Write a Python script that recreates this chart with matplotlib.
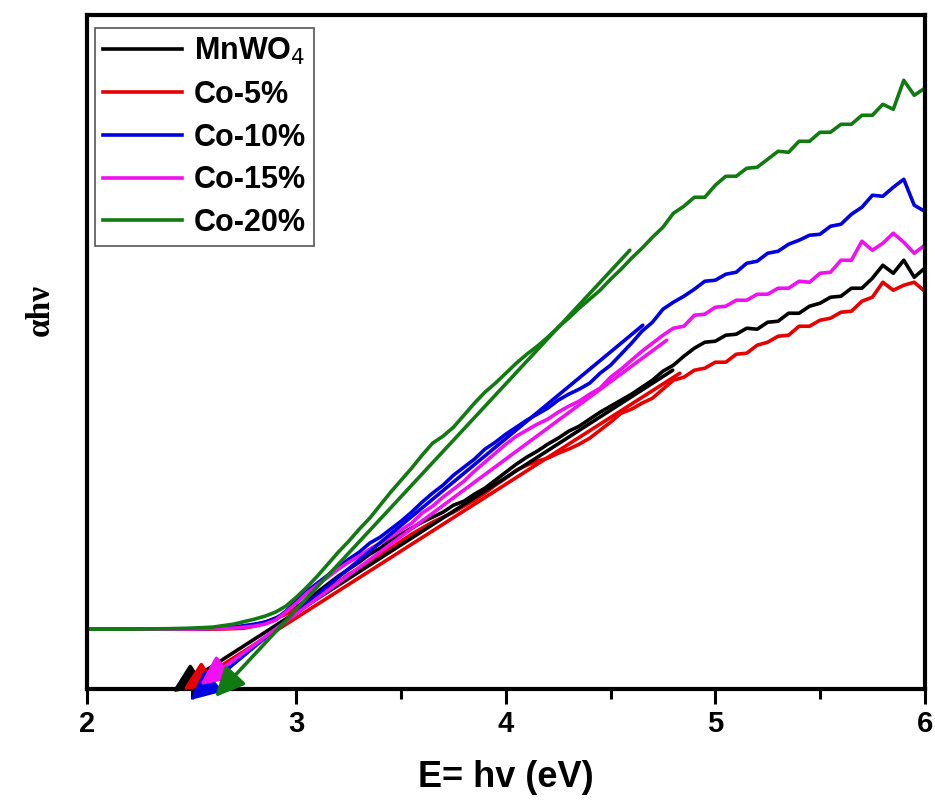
import matplotlib
matplotlib.use("Agg")
import matplotlib.pyplot as plt
from matplotlib.ticker import MultipleLocator

plt.rcParams['font.family'] = ['Liberation Sans', 'DejaVu Sans']

# photon energy grid (eV)
energy = [2.0, 2.2, 2.4, 2.5, 2.6, 2.7, 2.75, 2.8, 2.85, 2.9, 2.95,
          3.0, 3.05, 3.1, 3.15, 3.2, 3.25, 3.3, 3.35, 3.4, 3.45,
          3.5, 3.55, 3.6, 3.65, 3.7, 3.75, 3.8, 3.85, 3.9, 3.95,
          4.0, 4.05, 4.1, 4.15, 4.2, 4.25, 4.3, 4.35, 4.4, 4.45,
          4.5, 4.55, 4.6, 4.65, 4.7, 4.75, 4.8, 4.85, 4.9, 4.95,
          5.0, 5.05, 5.1, 5.15, 5.2, 5.25, 5.3, 5.35, 5.4, 5.45,
          5.5, 5.55, 5.6, 5.65, 5.7, 5.75, 5.8, 5.85, 5.9, 5.95, 6.0]

# alpha*h*nu, arbitrary units
mnwo4 = [60, 60, 60, 60, 60.5, 61, 62, 64, 67, 71, 76,
         82, 89, 97, 105, 113, 120, 127, 135, 141, 149,
         155, 161, 167, 172, 177, 184, 188, 195, 201, 209,
         217, 225, 232, 238, 245, 251, 258, 263, 270, 277,
         283, 289, 295, 302, 309, 318, 324, 333, 341, 347,
         348, 354, 355, 361, 360, 367, 368, 376, 376, 383,
         386, 392, 393, 401, 401, 411, 424, 416, 429, 412, 421]
co5 = [60, 60, 60, 60, 60, 60.5, 61, 63, 66, 70, 75,
       80, 86, 93, 100, 107, 115, 121, 128, 135, 141,
       148, 155, 161, 167, 172, 177, 183, 189, 196, 204,
       211, 219, 224, 228, 231, 236, 240, 245, 251, 259,
       267, 276, 280, 286, 291, 300, 309, 312, 319, 321,
       327, 327, 335, 336, 344, 347, 353, 354, 363, 363,
       369, 371, 377, 378, 388, 392, 407, 399, 404, 407, 398]
co10 = [60, 60, 60, 60.5, 61, 62, 63.5, 65, 67, 70, 78,
        88, 98, 106, 114, 122, 130, 137, 146, 152, 160,
        168, 177, 187, 196, 204, 214, 222, 230, 240, 247,
        255, 262, 269, 275, 281, 289, 295, 300, 306, 316,
        324, 335, 346, 358, 367, 380, 387, 393, 400, 408,
        409, 415, 417, 426, 428, 436, 438, 445, 449, 454,
        455, 463, 465, 475, 482, 494, 493, 502, 510, 484, 478]
co15 = [60, 60, 60, 60, 60.5, 61, 62, 63, 65, 69, 77,
        86, 96, 104, 112, 120, 127, 133, 140, 146, 152,
        159, 166, 176, 183, 192, 200, 208, 218, 227, 236,
        245, 253, 259, 265, 270, 277, 283, 288, 295, 301,
        312, 320, 329, 338, 346, 354, 361, 363, 374, 375,
        382, 383, 389, 389, 395, 395, 401, 401, 408, 407,
        416, 417, 429, 429, 448, 439, 446, 456, 447, 436, 444]
co20 = [60, 60, 60.5, 61, 62, 65, 67.5, 70, 73, 77, 83,
        92, 102, 113, 125, 137, 148, 160, 171, 184, 197,
        209, 221, 234, 246, 253, 262, 274, 286, 297, 306,
        316, 326, 335, 343, 352, 362, 371, 381, 390, 399,
        410, 420, 431, 441, 452, 462, 476, 483, 492, 492,
        504, 513, 513, 521, 522, 530, 538, 537, 548, 548,
        557, 557, 565, 565, 574, 574, 585, 580, 609, 594, 601]

labels = ['MnWO$_4$', 'Co-5%', 'Co-10%', 'Co-15%', 'Co-20%']
colors = ['#000000', '#e80000', '#0000e0', '#f010f0', '#117a11']
series = [mnwo4, co5, co10, co15, co20]

# linear fits: (E start, value start) at the arrow tip, (E end, value end)
fit_e0 = [2.406, 2.458, 2.492, 2.539, 2.611]
fit_y0 = [-3, -1, -11, 4, -8]
fit_e1 = [4.797, 4.831, 4.654, 4.768, 4.592]
fit_y1 = [319, 316, 364, 349, 439]

fig = plt.figure(figsize=(9.35, 8.06), dpi=100)
ax = fig.add_axes([0.093, 0.145, 0.896, 0.836])

for s, c, l in zip(series, colors, labels):
    ax.plot(energy, s, color=c, lw=2.6, label=l)

for e0, y0, e1, y1, c in zip(fit_e0, fit_y0, fit_e1, fit_y1, colors):
    ax.annotate('', xy=(e0, y0), xytext=(e1, y1),
                arrowprops=dict(arrowstyle='-|>,head_length=0.6,head_width=0.28',
                                color=c, lw=2.6, mutation_scale=30,
                                shrinkA=0, shrinkB=0),
                annotation_clip=False)

ax.set_xlim(2, 6)
ax.set_ylim(0, 674)
ax.xaxis.set_major_locator(MultipleLocator(1))
ax.xaxis.set_minor_locator(MultipleLocator(0.5))
ax.tick_params(axis='x', which='major', direction='out', length=11, width=2.2,
               labelsize=21, pad=4)
ax.tick_params(axis='x', which='minor', direction='out', length=7, width=2.2)
ax.set_yticks([])
for lab in ax.get_xticklabels():
    lab.set_fontweight('bold')
for sp in ax.spines.values():
    sp.set_linewidth(3)

ax.set_xlabel('E= hv (eV)', fontsize=26, fontweight='bold', labelpad=16)
fig.text(0.043, 0.615, 'αhν', rotation=90, fontsize=24, fontweight='bold',
         family=['Liberation Serif', 'DejaVu Serif'], ha='center', va='center')

leg = ax.legend(loc='upper left', bbox_to_anchor=(0.0095, 0.981), borderaxespad=0,
                fancybox=False, edgecolor='#555555', framealpha=1,
                handlelength=2.6, handletextpad=0.4, labelspacing=0.42,
                borderpad=0.25, prop=dict(size=22, weight='bold'))
leg.get_frame().set_linewidth(1.2)

fig.savefig('out.png', dpi=100)
